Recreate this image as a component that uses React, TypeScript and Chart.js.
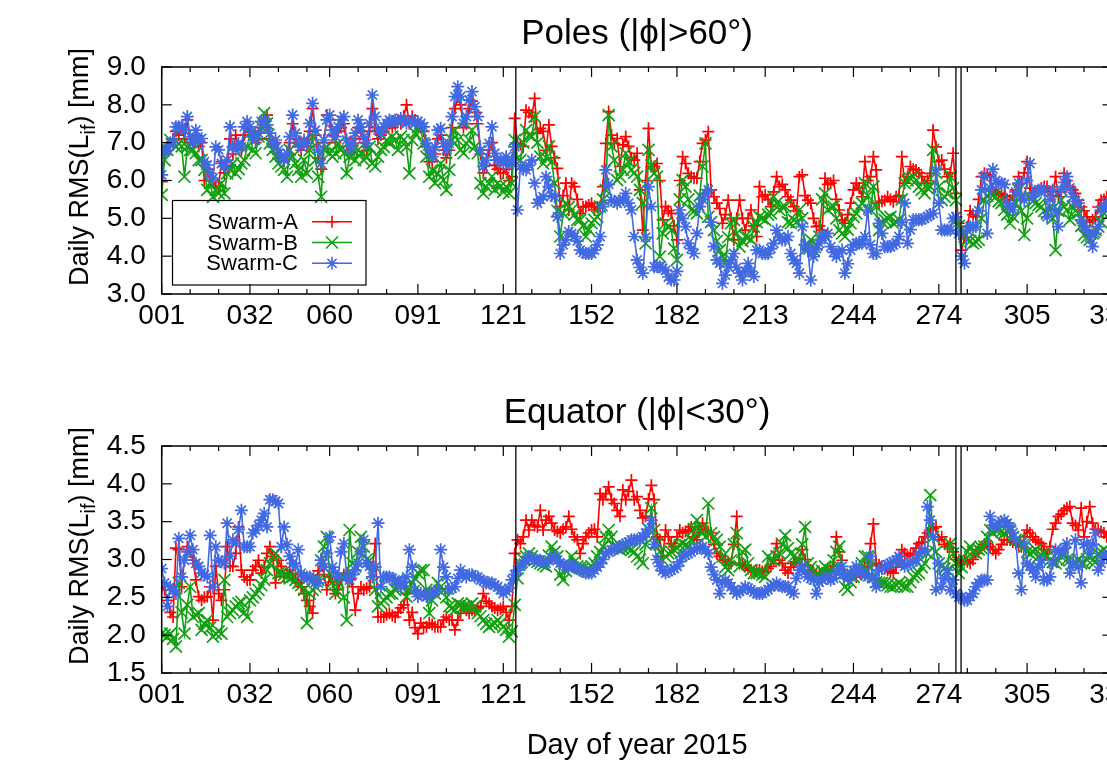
import React, { useEffect, useRef } from 'react';
import { Chart, registerables } from 'chart.js';

Chart.register(...registerables);

const FONT = '"Liberation Sans", Arial, Helvetica, sans-serif';

// Day of year 2015 (daily points)
const days: number[] = Array.from({ length: 333 }, (_, i) => i + 1);
const monthStartDays = [1, 32, 60, 91, 121, 152, 182, 213, 244, 274, 305, 335];
const minorTickDays = [11, 21, 42, 52, 70, 80, 101, 111, 131, 141, 162, 172, 192, 202, 223, 233, 254, 264, 284, 294, 315, 325];
const eventDays = [125.4, 280.0, 281.8];
const poleTicks = [3, 4, 5, 6, 7, 8, 9];
const equatorTicks = [1.5, 2, 2.5, 3, 3.5, 4, 4.5];
const seriesNames = ['Swarm-A', 'Swarm-B', 'Swarm-C'];
const seriesColors = ['#ff0000', '#10a010', '#4169e1'];
const seriesStyles = ['cross', 'crossRot', 'star'];
const seriesRadii = [6, 8.5, 6.5];

// Poles (|phi|>60deg), daily RMS [mm]
const polesA = [
  5.97, 6.7, 6.9, 6.9, 7.1, 7.3, 7.2, 7.4, 7.1, 7.6,
  7.0, 7.0, 7.2, 6.9, 7.0, 6.0, 6.3, 6.1, 6.0, 5.84,
  5.84, 6.5, 6.2, 6.4, 7.1, 6.7, 7.2, 6.9, 6.8, 7.2,
  7.4, 7.3, 7.2, 7.0, 7.1, 7.4, 7.6, 7.73, 7.1, 6.9,
  7.0, 6.7, 6.6, 6.5, 6.7, 7.0, 7.5, 7.1, 6.9, 6.8,
  7.0, 6.9, 7.3, 7.9, 7.2, 6.6, 6.3, 7.0, 7.73, 7.6,
  7.2, 7.0, 7.3, 7.4, 7.5, 6.9, 6.7, 6.9, 7.1, 7.4,
  7.3, 7.0, 6.8, 7.3, 7.9, 7.4, 7.1, 7.2, 7.3, 7.4,
  7.5, 7.4, 7.5, 7.6, 7.5, 7.7, 8.0, 7.5, 7.7, 7.6,
  7.5, 7.4, 7.3, 6.9, 6.5, 6.5, 6.7, 7.1, 7.2, 6.8,
  6.6, 6.8, 7.4, 7.9, 8.2, 8.0, 7.4, 7.5, 7.9, 8.1,
  7.8, 7.5, 6.7, 6.2, 6.4, 6.8, 7.0, 6.4, 6.3, 6.2,
  6.2, 6.3, 6.0, 6.1, 7.64, 6.98, 6.95, 6.9, 7.86, 7.8,
  7.69, 8.17, 7.25, 7.38, 7.3, 6.8, 7.47, 6.9, 6.6, 6.32,
  5.31, 5.6, 5.93, 5.22, 5.93, 5.84, 5.5, 5.13, 5.3, 5.31,
  5.35, 5.4, 5.22, 5.3, 5.31, 5.84, 6.98, 7.82, 7.2, 6.98,
  7.11, 6.37, 6.94, 7.16, 6.9, 6.6, 6.54, 6.72, 5.75, 4.69,
  6.0, 7.38, 6.37, 6.37, 6.45, 6.0, 4.96, 5.31, 5.2, 5.13,
  4.8, 4.43, 6.0, 6.63, 6.45, 6.19, 6.1, 6.06, 6.06, 6.5,
  6.98, 7.07, 7.29, 5.75, 5.57, 5.4, 5.26, 4.87, 5.1, 5.48,
  5.0, 4.43, 5.0, 5.48, 5.0, 4.69, 5.0, 5.22, 4.8, 4.52,
  5.84, 5.57, 5.62, 5.5, 5.31, 5.7, 6.1, 5.84, 5.9, 5.75,
  5.57, 5.48, 5.31, 5.2, 6.1, 6.15, 5.6, 5.48, 5.4, 5.0,
  4.78, 4.8, 4.69, 6.06, 5.9, 5.93, 6.0, 5.5, 5.22, 4.96,
  4.87, 5.1, 5.4, 5.75, 5.93, 5.8, 5.57, 6.5, 6.0, 6.1,
  6.63, 6.28, 5.4, 5.45, 5.48, 5.57, 5.5, 5.44, 5.57, 5.6,
  6.63, 5.93, 6.1, 6.37, 6.3, 6.28, 6.2, 6.1, 5.93, 6.0,
  6.19, 7.33, 6.89, 6.5, 6.54, 6.3, 6.1, 6.2, 6.72, 5.66,
  4.87, 4.16, 4.5, 4.78, 5.2, 5.1, 5.04, 5.5, 6.1, 6.19,
  6.15, 6.1, 5.75, 5.7, 5.66, 5.62, 5.57, 5.5, 5.48, 5.6,
  5.75, 6.1, 5.93, 6.2, 6.5, 5.8, 5.66, 5.7, 5.75, 5.8,
  5.84, 5.84, 5.7, 5.6, 6.1, 5.57, 5.7, 6.19, 6.0, 5.84,
  5.75, 5.66, 5.48, 5.3, 5.2, 5.04, 4.9, 4.96, 5.04, 5.3,
  5.48, 5.5, 5.57,
];
const polesB = [
  5.62, 6.54, 6.81, 7.07, 6.98, 6.89, 6.98, 6.9, 6.1, 6.89,
  6.81, 6.81, 6.72, 6.54, 6.54, 6.28, 5.75, 5.93, 5.57, 5.75,
  5.66, 5.93, 5.66, 6.19, 6.28, 6.45, 6.19, 6.3, 6.45, 6.54,
  6.89, 7.25, 6.81, 6.72, 7.16, 7.42, 7.78, 7.51, 6.98, 6.81,
  6.63, 6.45, 6.37, 6.28, 6.1, 6.81, 6.63, 6.45, 6.28, 6.1,
  6.54, 6.19, 6.81, 7.16, 6.54, 6.1, 5.57, 6.81, 6.89, 6.72,
  6.63, 6.72, 6.98, 6.81, 6.72, 6.19, 6.63, 6.81, 6.54, 6.81,
  6.72, 6.54, 6.63, 6.89, 6.45, 6.37, 6.63, 6.81, 6.89, 7.07,
  6.98, 7.16, 7.07, 6.81, 7.16, 7.07, 6.89, 6.19, 7.07, 7.25,
  7.42, 7.33, 6.98, 6.63, 6.1, 6.28, 5.93, 6.19, 6.45, 6.01,
  5.75, 6.28, 7.07, 7.33, 7.07, 6.81, 6.72, 6.98, 7.07, 7.33,
  6.89, 6.72, 5.93, 5.66, 5.84, 5.93, 6.1, 5.75, 5.93, 5.84,
  5.7, 5.84, 5.66, 5.93, 7.07, 6.6, 6.54, 7.0, 7.33, 7.2,
  7.16, 7.69, 7.0, 6.63, 6.45, 6.6, 6.9, 6.5, 5.93, 5.2,
  4.52, 5.13, 5.4, 5.3, 5.22, 5.1, 4.96, 4.96, 4.8, 4.52,
  4.7, 4.87, 4.96, 5.04, 5.31, 5.5, 5.75, 7.73, 6.9, 6.54,
  6.01, 6.1, 6.28, 6.72, 6.5, 6.28, 6.2, 6.1, 5.75, 5.4,
  4.34, 6.81, 6.4, 6.19, 6.1, 3.99, 4.6, 4.87, 4.8, 4.69,
  4.2, 3.9, 5.5, 6.01, 5.84, 5.5, 5.22, 5.2, 5.13, 5.6,
  6.37, 6.98, 5.04, 4.9, 4.69, 4.4, 4.16, 4.0, 3.81, 4.5,
  4.87, 4.96, 4.6, 4.25, 4.4, 4.52, 4.5, 4.43, 4.78, 4.9,
  5.04, 5.0, 4.96, 5.1, 5.13, 5.57, 5.4, 5.22, 5.3, 5.31,
  4.9, 4.87, 4.96, 4.9, 5.22, 5.0, 4.16, 4.3, 4.43, 4.16,
  4.3, 4.52, 5.5, 5.66, 5.22, 5.3, 5.31, 5.0, 4.69, 4.6,
  4.52, 4.7, 4.87, 5.04, 5.13, 5.3, 5.4, 5.93, 5.6, 5.22,
  5.84, 5.3, 4.69, 4.9, 4.96, 5.0, 5.04, 4.87, 4.9, 4.96,
  5.5, 5.93, 6.01, 6.05, 6.1, 6.0, 5.84, 5.75, 5.66, 5.8,
  5.84, 6.81, 6.2, 5.84, 5.48, 5.57, 5.66, 6.1, 5.8, 5.48,
  4.8, 4.7, 4.52, 4.43, 4.4, 4.34, 4.38, 4.43, 5.0, 5.48,
  5.6, 5.66, 5.6, 5.57, 5.45, 5.4, 5.22, 5.1, 4.87, 5.04,
  5.4, 5.75, 5.2, 4.56, 5.0, 5.57, 5.45, 5.4, 5.35, 5.31,
  5.2, 5.13, 5.3, 5.0, 4.16, 5.2, 5.48, 5.3, 5.22, 4.96,
  5.31, 5.2, 5.13, 4.8, 4.56, 4.5, 4.43, 4.6, 4.69, 4.78,
  4.9, 5.13, 5.2,
];
const polesC = [
  6.15, 6.8, 6.8, 7.0, 7.0, 7.42, 7.42, 7.42, 7.33, 7.69,
  7.16, 6.98, 7.33, 7.07, 7.11, 6.5, 6.41, 6.19, 6.06, 6.89,
  6.81, 6.45, 6.37, 6.54, 7.42, 6.89, 6.81, 6.98, 6.89, 7.42,
  7.56, 7.42, 7.16, 7.07, 7.25, 7.56, 7.6, 7.47, 7.25, 6.98,
  7.07, 6.81, 6.63, 6.54, 6.72, 7.16, 7.73, 7.25, 6.98, 6.89,
  7.07, 6.98, 7.51, 8.04, 7.33, 6.81, 6.45, 7.07, 7.6, 7.73,
  7.33, 7.16, 7.42, 7.6, 7.69, 7.07, 6.81, 6.98, 7.25, 7.6,
  7.42, 7.16, 6.98, 7.51, 8.26, 7.69, 7.33, 7.25, 7.42, 7.51,
  7.6, 7.56, 7.6, 7.56, 7.64, 7.6, 7.51, 7.56, 7.6, 7.51,
  7.56, 7.51, 7.42, 6.98, 6.81, 6.63, 6.89, 7.33, 7.38, 6.98,
  6.81, 6.98, 7.69, 8.22, 8.48, 8.22, 7.51, 7.69, 8.13, 8.35,
  7.95, 7.69, 6.81, 6.37, 6.54, 6.98, 7.42, 6.72, 6.54, 6.54,
  6.45, 6.63, 6.41, 6.54, 6.89, 5.22, 6.37, 6.3, 6.28, 6.4,
  6.54, 5.93, 5.4, 5.5, 5.57, 6.1, 5.84, 5.6, 5.57, 5.04,
  4.07, 4.3, 4.43, 4.65, 4.6, 4.52, 4.4, 4.16, 4.1, 4.07,
  4.07, 4.07, 4.16, 4.3, 4.52, 5.31, 6.28, 5.9, 5.48, 5.45,
  5.4, 5.45, 5.5, 5.66, 5.4, 5.22, 4.52, 3.9, 3.7, 3.55,
  4.5, 5.84, 5.31, 3.72, 3.72, 3.72, 3.68, 3.63, 3.45, 3.37,
  3.37, 3.6, 5.22, 5.0, 4.78, 4.34, 4.2, 4.07, 4.6, 5.31,
  5.5, 5.66, 5.75, 4.9, 4.25, 3.9, 3.81, 3.28, 3.5, 3.72,
  3.9, 4.07, 3.7, 3.55, 3.37, 3.6, 3.81, 3.6, 3.46, 4.16,
  4.16, 4.07, 4.07, 4.07, 4.2, 4.34, 4.69, 4.5, 4.43, 4.43,
  4.52, 4.07, 3.9, 3.81, 3.55, 4.78, 4.3, 4.16, 3.37, 3.99,
  4.2, 4.34, 4.52, 4.52, 4.6, 4.25, 4.1, 3.99, 4.1, 4.16,
  3.55, 3.8, 4.16, 4.3, 4.34, 4.34, 4.34, 4.52, 5.22, 4.3,
  4.07, 4.07, 4.87, 4.6, 4.25, 4.25, 4.25, 4.3, 4.34, 4.52,
  4.9, 5.4, 4.34, 4.7, 4.96, 4.96, 4.96, 4.96, 5.0, 5.04,
  5.1, 5.13, 6.28, 5.4, 4.69, 4.69, 4.69, 4.69, 5.0, 5.04,
  4.6, 4.0, 3.81, 4.69, 4.78, 4.78, 4.78, 5.2, 5.75, 6.1,
  4.6, 5.8, 6.3, 6.0, 5.93, 5.93, 5.9, 5.4, 5.3, 5.22,
  5.7, 5.93, 5.6, 5.48, 6.0, 6.45, 5.57, 5.7, 5.75, 5.75,
  5.75, 5.04, 5.5, 5.75, 5.2, 4.78, 5.75, 5.95, 6.1, 5.8,
  5.57, 5.45, 5.4, 4.96, 4.8, 4.69, 4.5, 4.25, 4.6, 4.78,
  5.22, 5.3, 5.4,
];

// Equator (|phi|<30deg), daily RMS [mm]
const equatorA = [
  2.64, 2.6, 2.46, 2.3, 2.24, 3.15, 3.13, 2.64, 2.99, 3.17,
  3.1, 2.99, 2.73, 2.51, 2.46, 2.5, 2.51, 2.64, 2.2, 2.91,
  2.55, 2.46, 2.6, 3.17, 2.91, 2.91, 3.08, 3.43, 2.86, 2.77,
  2.73, 2.73, 2.86, 2.91, 2.99, 2.82, 2.9, 3.08, 3.17, 3.04,
  2.69, 2.99, 2.91, 2.77, 2.82, 2.86, 2.8, 2.73, 2.69, 2.64,
  2.55, 2.46, 2.38, 2.29, 2.73, 2.85, 2.99, 2.8, 2.6, 2.77,
  2.7, 2.55, 2.6, 2.73, 2.8, 2.82, 2.75, 2.64, 2.33, 2.55,
  2.64, 2.6, 2.62, 2.64, 2.9, 3.21, 2.24, 2.24, 2.24, 2.27,
  2.29, 2.26, 2.24, 2.3, 2.36, 2.4, 2.55, 2.2, 2.3, 2.1,
  2.02, 2.16, 2.1, 2.11, 2.16, 2.14, 2.11, 2.11, 2.11, 2.2,
  2.24, 2.2, 2.2, 2.07, 2.2, 2.29, 2.38, 2.33, 2.29, 2.33,
  2.33, 2.36, 2.38, 2.55, 2.45, 2.42, 2.38, 2.36, 2.33, 2.35,
  2.38, 2.3, 2.2, 2.38, 3.08, 3.26, 3.21, 3.3, 3.52, 3.39,
  3.52, 3.45, 3.43, 3.65, 3.39, 3.52, 3.57, 3.48, 3.39, 3.37,
  3.35, 3.4, 3.43, 3.57, 3.4, 3.3, 3.26, 3.08, 3.21, 3.3,
  3.35, 3.39, 3.4, 3.3, 3.87, 3.79, 3.87, 3.96, 3.79, 3.74,
  3.65, 3.57, 3.92, 3.79, 3.9, 4.05, 3.79, 3.83, 3.65, 3.55,
  3.57, 3.8, 3.98, 3.79, 3.3, 3.26, 3.04, 3.39, 3.3, 3.21,
  3.17, 3.3, 3.39, 3.35, 3.37, 3.39, 3.43, 3.3, 3.26, 3.4,
  3.48, 3.39, 3.37, 3.35, 3.2, 3.08, 3.04, 3.0, 2.99, 2.97,
  2.95, 3.2, 3.57, 2.95, 2.93, 2.91, 2.88, 2.86, 2.84, 2.86,
  2.86, 2.84, 2.84, 2.88, 2.91, 3.0, 3.21, 2.99, 2.95, 2.86,
  2.82, 2.9, 2.95, 2.97, 3.0, 3.13, 3.0, 2.91, 2.86, 2.82,
  2.79, 2.8, 2.82, 2.8, 2.77, 2.85, 2.91, 3.3, 3.1, 2.99,
  2.8, 2.78, 2.82, 2.8, 2.77, 2.84, 2.86, 2.9, 2.91, 3.21,
  3.47, 2.95, 2.93, 2.91, 2.88, 2.86, 2.84, 2.82, 2.9, 2.99,
  3.13, 3.08, 3.04, 3.06, 3.08, 3.15, 3.21, 3.23, 3.3, 3.35,
  3.39, 3.41, 3.43, 3.26, 3.3, 3.2, 3.17, 3.21, 3.1, 3.0,
  2.97, 2.95, 2.99, 2.97, 2.95, 3.0, 3.08, 3.13, 3.17, 3.2,
  3.21, 3.17, 3.13, 3.08, 3.13, 3.2, 3.26, 3.26, 3.26, 3.23,
  3.21, 3.19, 3.17, 3.3, 3.39, 3.35, 3.3, 3.26, 3.23, 3.21,
  3.13, 3.08, 3.17, 3.4, 3.48, 3.57, 3.6, 3.65, 3.68, 3.7,
  3.48, 3.45, 3.39, 3.68, 3.3, 3.5, 3.7, 3.48, 3.4, 3.39,
  3.37, 3.35, 3.3,
];
const equatorB = [
  2.02, 2.0, 1.98, 2.02, 1.95, 1.85, 2.69, 2.3, 2.02, 2.4,
  2.64, 2.24, 2.27, 2.29, 2.07, 2.15, 2.2, 2.1, 1.98, 2.02,
  2.05, 2.02, 2.73, 2.24, 2.29, 2.33, 2.38, 2.42, 2.44, 2.3,
  2.24, 2.46, 2.5, 2.55, 2.6, 2.66, 2.73, 2.86, 2.95, 3.04,
  3.08, 2.82, 2.82, 2.8, 2.77, 2.75, 2.77, 2.73, 2.69, 2.66,
  2.6, 2.16, 2.55, 2.6, 2.64, 2.73, 2.99, 3.17, 3.3, 2.82,
  2.7, 2.55, 2.7, 2.77, 2.5, 2.2, 3.39, 2.95, 2.91, 3.1,
  3.3, 3.17, 3.0, 2.99, 2.82, 2.6, 2.38, 2.42, 2.46, 2.5,
  2.55, 2.55, 2.6, 2.73, 2.69, 2.64, 2.51, 2.6, 2.69, 2.75,
  2.82, 2.86, 2.86, 2.6, 2.29, 2.46, 2.55, 2.69, 2.64, 2.6,
  2.5, 2.38, 2.36, 2.33, 2.42, 2.4, 2.38, 2.38, 2.38, 2.42,
  2.38, 2.29, 2.25, 2.2, 2.15, 2.11, 2.14, 2.16, 2.2, 2.16,
  2.11, 2.07, 1.98, 2.05, 2.4, 2.75, 2.95, 3.0, 3.04, 3.08,
  3.04, 2.99, 2.97, 2.95, 2.93, 2.91, 3.05, 3.17, 3.1, 3.04,
  2.8, 2.73, 2.85, 2.91, 3.04, 2.97, 2.91, 2.89, 2.88, 2.86,
  2.88, 2.91, 2.95, 3.04, 3.1, 3.17, 3.3, 3.39, 3.3, 3.17,
  3.15, 3.13, 3.15, 3.17, 3.15, 3.13, 3.1, 3.04, 3.0, 2.95,
  3.2, 3.4, 3.68, 3.39, 3.21, 3.1, 2.99, 3.04, 3.08, 3.1,
  3.13, 3.15, 3.19, 3.21, 3.19, 3.17, 3.26, 3.4, 3.52, 3.4,
  3.35, 3.3, 3.74, 3.35, 3.3, 3.26, 3.17, 3.04, 2.9, 2.86,
  2.99, 3.2, 3.35, 2.91, 3.1, 3.13, 2.95, 2.86, 2.82, 2.82,
  2.82, 2.8, 2.77, 3.04, 3.0, 2.99, 3.04, 3.08, 3.2, 3.32,
  3.15, 3.08, 3.04, 3.0, 2.99, 3.2, 3.43, 2.95, 2.9, 2.84,
  2.8, 2.77, 2.85, 2.91, 2.8, 2.86, 2.99, 3.1, 3.17, 2.8,
  2.64, 2.6, 2.7, 2.77, 2.8, 2.82, 2.95, 3.04, 3.04, 2.9,
  2.77, 2.7, 2.69, 2.69, 2.69, 2.66, 2.64, 2.64, 2.66, 2.69,
  2.66, 2.64, 2.64, 2.7, 2.77, 2.8, 2.82, 2.9, 2.95, 3.08,
  3.85, 3.3, 3.1, 2.95, 2.91, 2.88, 2.86, 3.21, 3.08, 2.95,
  2.82, 2.9, 2.99, 3.1, 3.17, 3.1, 3.08, 3.13, 3.15, 3.17,
  3.3, 3.39, 3.35, 3.39, 3.39, 3.37, 3.35, 3.37, 3.39, 3.3,
  3.26, 3.26, 3.22, 3.17, 3.1, 3.08, 3.1, 3.13, 3.04, 3.06,
  3.08, 3.04, 2.99, 2.97, 2.95, 2.99, 3.04, 3.08, 3.0, 2.99,
  2.95, 2.97, 2.99, 2.95, 2.95, 3.0, 3.04, 2.99, 2.97, 3.08,
  3.1, 3.13, 3.1,
];
const equatorC = [
  2.88, 2.69, 2.38, 2.64, 2.6, 2.55, 3.28, 2.77, 2.99, 3.1,
  3.32, 3.13, 2.95, 2.91, 2.82, 2.8, 2.77, 3.32, 2.64, 3.17,
  2.99, 2.97, 2.95, 3.48, 3.04, 3.26, 3.21, 3.4, 3.65, 3.17,
  3.17, 3.17, 3.35, 3.39, 3.45, 3.52, 3.61, 3.43, 3.79, 3.79,
  3.77, 3.74, 3.17, 3.43, 3.2, 3.04, 2.95, 2.91, 3.13, 2.82,
  2.77, 2.77, 2.77, 2.73, 2.7, 2.69, 2.99, 2.9, 3.08, 3.3,
  2.9, 2.82, 2.77, 3.1, 3.21, 2.77, 2.73, 2.8, 2.86, 2.95,
  3.1, 3.26, 2.95, 2.91, 2.77, 2.9, 3.48, 2.64, 2.77, 2.77,
  2.77, 2.75, 2.73, 2.7, 2.64, 2.7, 2.77, 3.13, 2.9, 2.6,
  2.51, 2.55, 2.53, 2.51, 2.53, 2.55, 2.58, 2.6, 3.13, 2.9,
  2.77, 2.6, 2.62, 2.64, 2.75, 2.86, 2.8, 2.77, 2.8, 2.8,
  2.77, 2.77, 2.73, 2.72, 2.69, 2.69, 2.69, 2.66, 2.64, 2.6,
  2.55, 2.58, 2.62, 2.73, 2.8, 2.86, 2.91, 2.95, 2.99, 3.04,
  3.02, 2.99, 2.99, 2.99, 2.97, 2.95, 2.99, 3.02, 3.04, 2.99,
  2.95, 2.93, 2.91, 2.91, 2.91, 2.91, 2.88, 2.86, 2.84, 2.82,
  2.82, 2.82, 2.86, 2.9, 2.95, 3.0, 3.08, 3.1, 3.13, 3.13,
  3.15, 3.17, 3.19, 3.21, 3.23, 3.26, 3.26, 3.26, 3.26, 3.3,
  3.35, 3.4, 3.52, 3.2, 3.0, 2.91, 2.85, 2.82, 2.84, 2.86,
  2.88, 2.91, 2.97, 3.04, 3.06, 3.08, 3.1, 3.13, 3.15, 3.16,
  3.17, 3.12, 3.08, 2.9, 2.8, 2.73, 2.55, 2.7, 2.73, 2.69,
  2.64, 2.6, 2.55, 2.58, 2.6, 2.64, 2.62, 2.6, 2.57, 2.55,
  2.55, 2.55, 2.58, 2.6, 2.64, 2.66, 2.69, 2.66, 2.64, 2.64,
  2.64, 2.58, 2.55, 2.75, 2.86, 2.91, 2.84, 2.77, 2.75, 2.73,
  2.55, 2.7, 2.73, 2.77, 2.75, 2.73, 2.75, 2.82, 2.88, 2.91,
  2.8, 2.75, 2.77, 2.85, 2.91, 2.86, 2.82, 2.8, 2.77, 3.04,
  2.75, 2.64, 2.86, 2.88, 2.91, 2.93, 2.95, 2.97, 2.99, 3.04,
  2.95, 2.91, 2.93, 2.95, 2.97, 2.99, 3.08, 3.1, 3.13, 3.7,
  3.52, 3.3, 2.6, 2.95, 2.64, 2.75, 2.86, 2.6, 2.73, 2.55,
  2.5, 2.51, 2.46, 2.46, 2.51, 2.55, 2.64, 2.69, 2.73, 2.73,
  2.73, 3.57, 3.45, 3.43, 3.48, 3.5, 3.52, 3.48, 3.43, 3.35,
  3.26, 2.82, 2.6, 3.21, 2.95, 2.91, 2.86, 2.77, 2.9, 2.99,
  2.73, 2.73, 2.77, 2.95, 3.13, 3.1, 3.08, 3.15, 3.21, 2.82,
  2.95, 3.26, 2.9, 2.69, 3.2, 3.21, 3.08, 3.2, 3.35, 2.86,
  2.95, 3.04, 3.04,
];

const CANVAS_W = 1125;
const TOP_H = 379;
const BOT_H = 385;
const PLOT_LEFT = 161.7;
const PLOT_RIGHT = 1112.5;
const PLOT_BOTTOM = 294;

function drawMarker(ctx: CanvasRenderingContext2D, style: string, x: number, y: number, r: number) {
  ctx.beginPath();
  if (style === 'cross' || style === 'star') {
    ctx.moveTo(x - r, y); ctx.lineTo(x + r, y);
    ctx.moveTo(x, y - r); ctx.lineTo(x, y + r);
  }
  if (style === 'crossRot' || style === 'star') {
    const d = r * Math.SQRT1_2;
    ctx.moveTo(x - d, y - d); ctx.lineTo(x + d, y + d);
    ctx.moveTo(x - d, y + d); ctx.lineTo(x + d, y - d);
  }
  ctx.stroke();
}

function line(ctx: CanvasRenderingContext2D, x1: number, y1: number, x2: number, y2: number) {
  ctx.beginPath(); ctx.moveTo(x1, y1); ctx.lineTo(x2, y2); ctx.stroke();
}

const gnuFrame = {
  id: 'gnuFrame',
  afterDatasetsDraw(chart: any, _args: any, opts: any) {
    const { ctx, chartArea: a, scales } = chart;
    const x = scales.x, y = scales.y;
    ctx.save();
    ctx.strokeStyle = '#000';
    ctx.lineWidth = 1.3;
    eventDays.forEach((d) => {
      const px = x.getPixelForValue(d);
      line(ctx, px, a.top, px, a.bottom);
    });
    ctx.lineWidth = 1.5;
    ctx.strokeRect(a.left, a.top, a.right - a.left, a.bottom - a.top);
    ctx.lineWidth = 1.2;
    monthStartDays.forEach((d) => {
      const px = x.getPixelForValue(d);
      line(ctx, px, a.bottom, px, a.bottom - 10);
      line(ctx, px, a.top, px, a.top + 10);
    });
    minorTickDays.forEach((d) => {
      const px = x.getPixelForValue(d);
      line(ctx, px, a.bottom, px, a.bottom - 5);
      line(ctx, px, a.top, px, a.top + 5);
    });
    (opts.yTicks as number[]).forEach((v) => {
      const py = y.getPixelForValue(v);
      line(ctx, a.left, py, a.left + 10, py);
      line(ctx, a.right, py, a.right - 10, py);
    });

    if (opts.legend) {
      ctx.lineWidth = 1.2;
      ctx.strokeRect(172.5, 200.5, 193.5, 84.5);
      const rows = [221.7, 242.5, 263.3];
      chart.data.datasets.forEach((ds: any, i: number) => {
        const ry = rows[i];
        ctx.fillStyle = '#000';
        ctx.font = `22px ${FONT}`;
        ctx.textAlign = 'right';
        ctx.textBaseline = 'middle';
        ctx.fillText(ds.label, 298, ry + 1);
        ctx.strokeStyle = ds.borderColor;
        ctx.lineWidth = 1.6;
        line(ctx, 312, ry, 352, ry);
        drawMarker(ctx, ds.pointStyle, 332, ry, ds.pointRadius);
      });
    }
    ctx.restore();
  },
  afterDraw(chart: any, _args: any, opts: any) {
    const ctx: CanvasRenderingContext2D = chart.ctx;
    const big = `27px ${FONT}`, small = `20px ${FONT}`;
    const p1 = 'Daily RMS(L', sub = 'if', p2 = ') [mm]';
    ctx.save();
    ctx.font = big;
    const w1 = ctx.measureText(p1).width;
    const w3 = ctx.measureText(p2).width;
    ctx.font = small;
    const w2 = ctx.measureText(sub).width;
    const total = w1 + w2 + w3;
    ctx.translate(opts.titleX, opts.titleY);
    ctx.rotate(-Math.PI / 2);
    ctx.fillStyle = '#000';
    ctx.textAlign = 'left';
    ctx.textBaseline = 'alphabetic';
    const x0 = -total / 2;
    ctx.font = big; ctx.fillText(p1, x0, 0);
    ctx.font = small; ctx.fillText(sub, x0 + w1, 7);
    ctx.font = big; ctx.fillText(p2, x0 + w1 + w2, 0);
    ctx.restore();
  },
};

function makeDatasets(a: number[], b: number[], c: number[]) {
  return [a, b, c].map((vals, i) => ({
    label: seriesNames[i],
    data: days.map((d, k) => ({ x: d, y: vals[k] })),
    borderColor: seriesColors[i],
    backgroundColor: seriesColors[i],
    borderWidth: 1.6,
    pointStyle: seriesStyles[i],
    pointRadius: seriesRadii[i],
    pointBorderWidth: 1.7,
    pointBorderColor: seriesColors[i],
    pointBackgroundColor: seriesColors[i],
    tension: 0,
    fill: false,
    order: 2 - i,
  }));
}

function makeConfig(opts: {
  title: string; a: number[]; b: number[]; c: number[];
  yMin: number; yMax: number; yStep: number; yTicks: number[];
  height: number; legend: boolean; xTitle: boolean;
}): any {
  return {
    type: 'line',
    data: { datasets: makeDatasets(opts.a, opts.b, opts.c) },
    plugins: [gnuFrame],
    options: {
      animation: false,
      responsive: false,
      maintainAspectRatio: false,
      devicePixelRatio: 1,
      events: [],
      layout: { padding: { left: 0, right: CANVAS_W - PLOT_RIGHT, top: 0, bottom: 0 } },
      plugins: {
        legend: { display: false },
        tooltip: { enabled: false },
        title: {
          display: true,
          text: opts.title,
          fullSize: false,
          color: '#000',
          font: { family: FONT, size: 35, weight: 'normal' },
          padding: { top: 12.9, bottom: 12.1 },
        },
        gnuFrame: { yTicks: opts.yTicks, legend: opts.legend, titleX: 88, titleY: 167 },
      },
      scales: {
        x: {
          type: 'linear',
          position: 'bottom',
          min: 1,
          max: 335,
          grid: { display: false, drawTicks: false },
          border: { display: false },
          ticks: {
            autoSkip: false,
            maxRotation: 0,
            padding: 5,
            color: '#000',
            font: { family: FONT, size: 28 },
            callback: (v: number) => String(v).padStart(3, '0'),
          },
          title: {
            display: opts.xTitle,
            text: 'Day of year 2015',
            color: '#000',
            font: { family: FONT, size: 29 },
            padding: { top: 0, bottom: 1 },
          },
          afterBuildTicks: (s: any) => { s.ticks = monthStartDays.map((v) => ({ value: v })); },
          afterFit: (s: any) => { s.height = opts.height - PLOT_BOTTOM; s.paddingLeft = 0; s.paddingRight = 0; },
        },
        y: {
          type: 'linear',
          position: 'left',
          min: opts.yMin,
          max: opts.yMax,
          grid: { display: false, drawTicks: false },
          border: { display: false },
          ticks: {
            stepSize: opts.yStep,
            padding: 16,
            color: '#000',
            font: { family: FONT, size: 28 },
            callback: (v: number) => Number(v).toFixed(1),
          },
          afterFit: (s: any) => { s.width = PLOT_LEFT; },
        },
      },
    },
  };
}

export default function App() {
  const topRef = useRef<HTMLCanvasElement>(null);
  const botRef = useRef<HTMLCanvasElement>(null);

  useEffect(() => {
    const c1 = new Chart(topRef.current as HTMLCanvasElement, makeConfig({
      title: 'Poles (|ϕ|>60°)', a: polesA, b: polesB, c: polesC,
      yMin: 3, yMax: 9, yStep: 1, yTicks: poleTicks, height: TOP_H, legend: true, xTitle: false,
    }));
    const c2 = new Chart(botRef.current as HTMLCanvasElement, makeConfig({
      title: 'Equator (|ϕ|<30°)', a: equatorA, b: equatorB, c: equatorC,
      yMin: 1.5, yMax: 4.5, yStep: 0.5, yTicks: equatorTicks, height: BOT_H, legend: false, xTitle: true,
    }));
    return () => { c1.destroy(); c2.destroy(); };
  }, []);

  return (
    <div style={{ position: 'fixed', left: 0, top: 0, width: 1107, height: 764, overflow: 'hidden', background: '#fff' }}>
      <canvas ref={topRef} width={CANVAS_W} height={TOP_H}
        style={{ position: 'absolute', left: 0, top: 0, width: CANVAS_W, height: TOP_H, display: 'block' }} />
      <canvas ref={botRef} width={CANVAS_W} height={BOT_H}
        style={{ position: 'absolute', left: 0, top: TOP_H, width: CANVAS_W, height: BOT_H, display: 'block' }} />
    </div>
  );
}
